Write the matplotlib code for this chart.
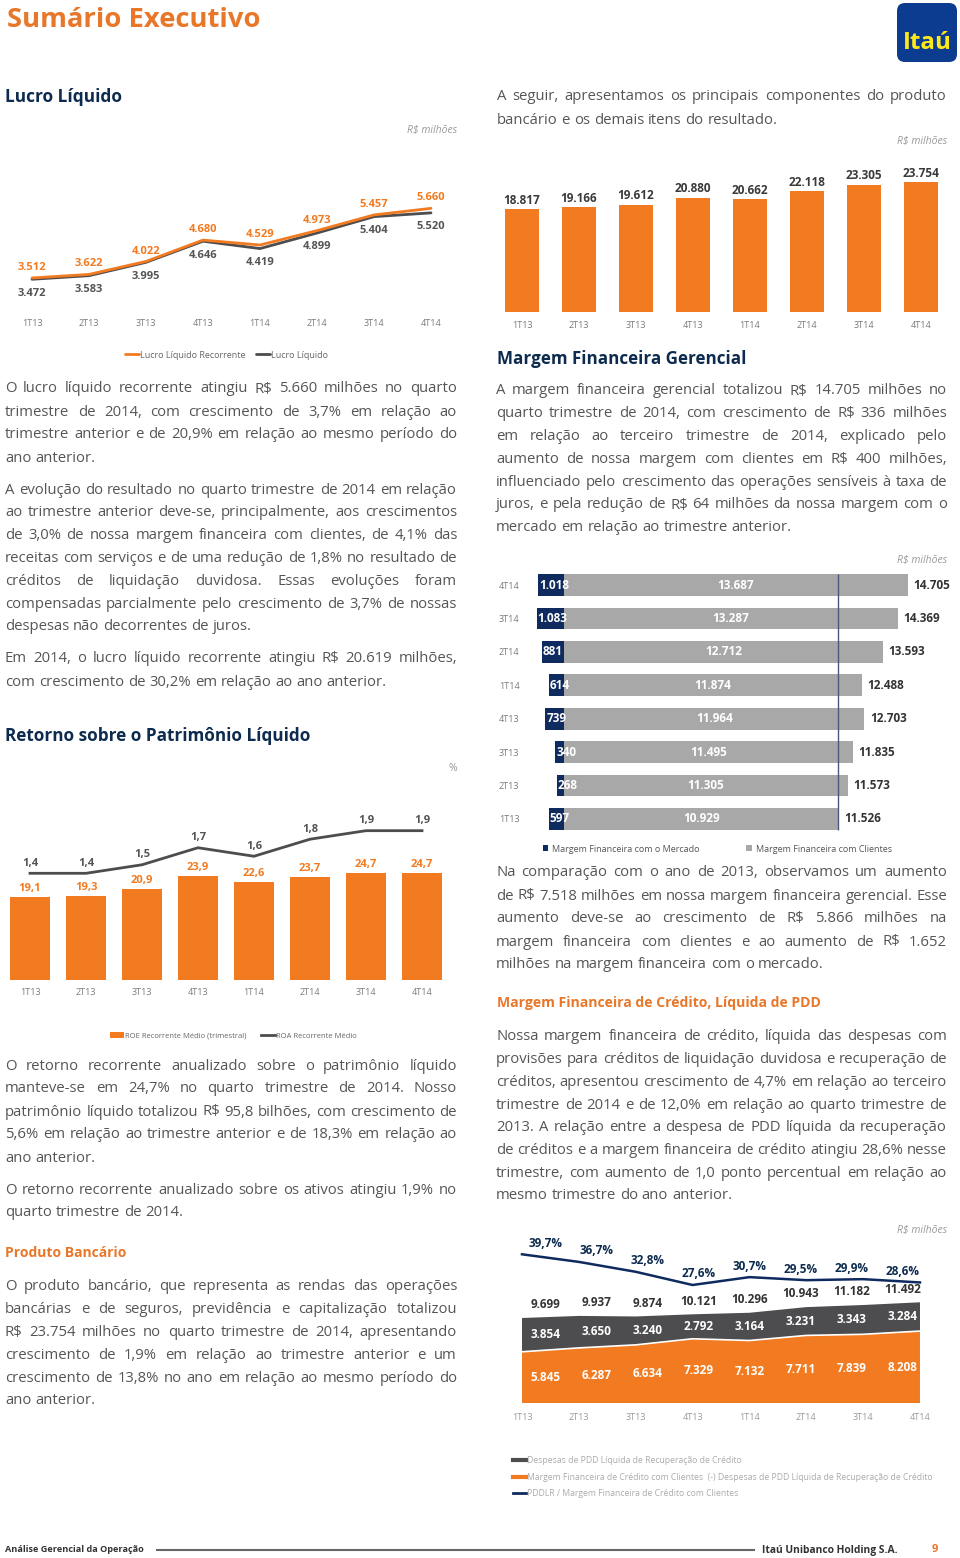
import matplotlib
matplotlib.use('Agg')
import matplotlib.pyplot as plt
from matplotlib.patches import FancyBboxPatch
from matplotlib.lines import Line2D
import numpy as np

plt.rcParams['font.family'] = ['Open Sans', 'DejaVu Sans']

W, H = 960, 1558

# ---------------- data ----------------
quarters = ['1T13', '2T13', '3T13', '4T13', '1T14', '2T14', '3T14', '4T14']
lucro_recorrente = [3512, 3622, 4022, 4680, 4529, 4973, 5457, 5660]
lucro_liquido = [3472, 3583, 3995, 4646, 4419, 4899, 5404, 5520]
produto_bancario = [18817, 19166, 19612, 20880, 20662, 22118, 23305, 23754]
mf_mercado = [597, 268, 340, 739, 614, 881, 1083, 1018]
mf_clientes = [10929, 11305, 11495, 11964, 11874, 12712, 13287, 13687]
mf_total = [11526, 11573, 11835, 12703, 12488, 13593, 14369, 14705]
roe = [19.1, 19.3, 20.9, 23.9, 22.6, 23.7, 24.7, 24.7]
roa = [1.4, 1.4, 1.5, 1.7, 1.6, 1.8, 1.9, 1.9]
pdd_despesas = [3854, 3650, 3240, 2792, 3164, 3231, 3343, 3284]
mf_credito_liq = [5845, 6287, 6634, 7329, 7132, 7711, 7839, 8208]
mf_credito_total = [9699, 9937, 9874, 10121, 10296, 10943, 11182, 11492]
pddlr_ratio = [39.7, 36.7, 32.8, 27.6, 30.7, 29.5, 29.9, 28.6]

# ---------------- style ----------------
ORANGE = '#F27B21'
TORANGE = '#E8772A'
DARK = '#4D4D4F'
NAVY = '#0F2A5E'
TNAVY = '#0D2B4E'
GRAYBAR = '#A8A8A8'
BODY = '#555555'
TICK = '#7A7A7A'


def fmt_int(v):
    return f"{v:,}".replace(',', '.')


def fmt_dec(v):
    return f"{v:.1f}".replace('.', ',')


fig = plt.figure(figsize=(W / 100, H / 100), dpi=100)
R = fig.canvas.get_renderer()


def add_ax(l, t, r, b):
    ax = fig.add_axes([l / W, 1 - b / H, (r - l) / W, (b - t) / H])
    return ax


def ptext(x, y, s, **kw):
    return fig.text(x / W, 1 - y / H, s, **kw)


def fit_text(x, y, s, width, **kw):
    t = ptext(x, y, s, fontsize=10, **kw)
    w = t.get_window_extent(R).width
    t.set_fontsize(10 * width / w)
    return t


def clean(ax):
    for sp in ax.spines.values():
        sp.set_visible(False)
    ax.set_yticks([])
    ax.patch.set_visible(False)


# ---------------- paragraphs ----------------
par_left1 = ["O lucro líquido recorrente atingiu R$ 5.660 milhões no quarto",
             "trimestre de 2014, com crescimento de 3,7% em relação ao",
             "trimestre anterior e de 20,9% em relação ao mesmo período do",
             "ano anterior."]
par_left2 = ["A evolução do resultado no quarto trimestre de 2014 em relação",
             "ao trimestre anterior deve-se, principalmente, aos crescimentos",
             "de 3,0% de nossa margem financeira com clientes, de 4,1% das",
             "receitas com serviços e de uma redução de 1,8% no resultado de",
             "créditos de liquidação duvidosa. Essas evoluções foram",
             "compensadas parcialmente pelo crescimento de 3,7% de nossas",
             "despesas não decorrentes de juros."]
par_left3 = ["Em 2014, o lucro líquido recorrente atingiu R$ 20.619 milhões,",
             "com crescimento de 30,2% em relação ao ano anterior."]
par_left4 = ["O retorno recorrente anualizado sobre o patrimônio líquido",
             "manteve-se em 24,7% no quarto trimestre de 2014. Nosso",
             "patrimônio líquido totalizou R$ 95,8 bilhões, com crescimento de",
             "5,6% em relação ao trimestre anterior e de 18,3% em relação ao",
             "ano anterior."]
par_left5 = ["O retorno recorrente anualizado sobre os ativos atingiu 1,9% no",
             "quarto trimestre de 2014."]
par_left6 = ["O produto bancário, que representa as rendas das operações",
             "bancárias e de seguros, previdência e capitalização totalizou",
             "R$ 23.754 milhões no quarto trimestre de 2014, apresentando",
             "crescimento de 1,9% em relação ao trimestre anterior e um",
             "crescimento de 13,8% no ano em relação ao mesmo período do",
             "ano anterior."]
par_right0 = ["A seguir, apresentamos os principais componentes do produto",
              "bancário e os demais itens do resultado."]
par_right1 = ["A margem financeira gerencial totalizou R$ 14.705 milhões no",
              "quarto trimestre de 2014, com crescimento de R$ 336 milhões",
              "em relação ao terceiro trimestre de 2014, explicado pelo",
              "aumento de nossa margem com clientes em R$ 400 milhões,",
              "influenciado pelo crescimento das operações sensíveis à taxa de",
              "juros, e pela redução de R$ 64 milhões da nossa margem com o",
              "mercado em relação ao trimestre anterior."]
par_right2 = ["Na comparação com o ano de 2013, observamos um aumento",
              "de R$ 7.518 milhões em nossa margem financeira gerencial. Esse",
              "aumento deve-se ao crescimento de R$ 5.866 milhões na",
              "margem financeira com clientes e ao aumento de R$ 1.652",
              "milhões na margem financeira com o mercado."]
par_right3 = ["Nossa margem financeira de crédito, líquida das despesas com",
              "provisões para créditos de liquidação duvidosa e recuperação de",
              "créditos, apresentou crescimento de 4,7% em relação ao terceiro",
              "trimestre de 2014 e de 12,0% em relação ao quarto trimestre de",
              "2013. A relação entre a despesa de PDD líquida da recuperação",
              "de créditos e a margem financeira de crédito atingiu 28,6% nesse",
              "trimestre, com aumento de 1,0 ponto percentual em relação ao",
              "mesmo trimestre do ano anterior."]

all_pars = [par_left1, par_left2, par_left3, par_left4, par_left5, par_left6,
            par_right0, par_right1, par_right2, par_right3]

# body size: the tightest justified line must fit 452 px
ratios = []
for p in all_pars:
    for line in p[:-1]:
        t = ptext(0, 0, line, fontsize=10)
        ratios.append(452 / t.get_window_extent(R).width)
        t.remove()
BODY_SIZE = 10 * min(ratios)

tA = ptext(0, 0, 'a a', fontsize=BODY_SIZE)
tB = ptext(0, 0, 'aa', fontsize=BODY_SIZE)
SPACE = tA.get_window_extent(R).width - tB.get_window_extent(R).width
tA.remove(); tB.remove()


def paragraph(lines, x0, x1, y0, dy):
    for k, line in enumerate(lines):
        yb = y0 + k * dy + 4.5
        words = line.split()
        ts = [ptext(x0, yb, w, fontsize=BODY_SIZE, color=BODY, va='baseline', ha='left')
              for w in words]
        ws = [t.get_window_extent(R).width for t in ts]
        if k == len(lines) - 1 or len(words) == 1:
            gap = SPACE
        else:
            gap = (x1 - x0 - sum(ws)) / (len(words) - 1)
        x = x0
        for t, w in zip(ts, ws):
            t.set_x(x / W)
            x += w + gap


paragraph(par_left1, 5, 457, 388, 23)
paragraph(par_left2, 5, 457, 489, 22.8)
paragraph(par_left3, 5, 457, 658, 23)
paragraph(par_left4, 5, 457, 1065, 23)
paragraph(par_left5, 5, 457, 1189, 23)
paragraph(par_left6, 5, 457, 1286, 22.8)
paragraph(par_right0, 497, 947, 96, 23)
paragraph(par_right1, 496, 947, 390, 22.8)
paragraph(par_right2, 496, 947, 872, 23)
paragraph(par_right3, 496, 947, 1036, 22.7)

# ---------------- titles ----------------
fit_text(7, 20, 'Sumário Executivo', 253, color=TORANGE, fontweight='bold', va='center')
fit_text(5, 97, 'Lucro Líquido', 117, color=TNAVY, fontweight='bold', va='center')
fit_text(497, 359, 'Margem Financeira Gerencial', 249, color=TNAVY, fontweight='bold', va='center')
fit_text(5, 736, 'Retorno sobre o Patrimônio Líquido', 305, color=TNAVY, fontweight='bold', va='center')
fit_text(497, 1003, 'Margem Financeira de Crédito, Líquida de PDD', 325, color=TORANGE,
         fontweight='bold', va='center')
fit_text(5, 1253, 'Produto Bancário', 121, color=TORANGE, fontweight='bold', va='center')

for (xr, yr) in [(457, 130), (947, 141), (947, 560), (947, 1230)]:
    ptext(xr, yr, 'R$ milhões', fontsize=7.5, color='#9A9A9A', style='italic', ha='right', va='center')
ptext(453, 768, '%', fontsize=7.5, color='#9A9A9A', ha='center', va='center')

# ---------------- logo ----------------
axl = add_ax(897, 3, 957, 62)
axl.set_xlim(0, 60); axl.set_ylim(0, 59); axl.axis('off')
axl.add_patch(FancyBboxPatch((0, 0), 60, 59, boxstyle='round,pad=0,rounding_size=8',
                             facecolor='#0B3C8F', edgecolor='none'))
fit_text(927, 43, 'Itaú', 49, color='#FFE81A', fontweight='bold', ha='center', va='center')

x = np.arange(len(quarters))

# ---------------- chart 1: lucro líquido ----------------
ax1 = add_ax(3.5, 160, 459.5, 310)
l_liq, = ax1.plot(x, lucro_liquido, color=DARK, lw=2, solid_capstyle='round')
l_rec, = ax1.plot(x, lucro_recorrente, color=ORANGE, lw=2, solid_capstyle='round')
ax1.set_xlim(-0.5, 7.5)
ax1.set_ylim(2524, 7151)
clean(ax1)
ax1.set_xticks(x, quarters)
ax1.tick_params(axis='x', length=0, pad=6.5, labelsize=6.5, labelcolor=TICK)
for i, (a, b) in enumerate(zip(lucro_recorrente, lucro_liquido)):
    ax1.annotate(fmt_int(a), (i, a), xytext=(0, 7.5), textcoords='offset points',
                 ha='center', va='center', color=ORANGE, fontweight='bold', fontsize=8)
    ax1.annotate(fmt_int(b), (i, b), xytext=(0, -10), textcoords='offset points',
                 ha='center', va='center', color='#555555', fontweight='bold', fontsize=8)
fig.legend([l_rec, l_liq], ['Lucro Líquido Recorrente', 'Lucro Líquido'],
           loc='center left', bbox_to_anchor=(125 / W, 1 - 355 / H), ncol=2, frameon=False,
           fontsize=6.5, labelcolor='#666666', handlelength=1.5, handletextpad=0.15,
           columnspacing=1.2, borderpad=0, borderaxespad=0)

# ---------------- chart 2: produto bancário ----------------
ax2 = add_ax(493.5, 160, 949.5, 312)
ax2.bar(x, produto_bancario, width=0.58, color=ORANGE)
ax2.set_xlim(-0.5, 7.5)
ax2.set_ylim(0, 27830)
clean(ax2)
ax2.set_xticks(x, quarters)
ax2.tick_params(axis='x', length=0, pad=6.5, labelsize=6.5, labelcolor=TICK)
for i, v in enumerate(produto_bancario):
    ax2.annotate(fmt_int(v), (i, v), xytext=(0, 6.5), textcoords='offset points',
                 ha='center', va='center', color='#3A3A3A', fontweight='bold', fontsize=8.5)

# ---------------- chart 3: margem financeira gerencial ----------------
ax3 = add_ax(525, 568.3, 955, 835.7)
b_m = ax3.barh(x, [-m for m in mf_mercado], height=0.65, color=NAVY)
b_c = ax3.barh(x, mf_clientes, height=0.65, color=GRAYBAR)
ax3.vlines(mf_clientes[0], -0.33, 7.33, color='#46597F', lw=1)
ax3.set_xlim(-1553, 15574)
ax3.set_ylim(-0.5, 7.5)
clean(ax3)
ax3.set_xticks([])
ax3.set_yticks(x, quarters)
ax3.tick_params(axis='y', length=0, pad=4, labelsize=6.5, labelcolor=TICK)
for i, (m, c, t) in enumerate(zip(mf_mercado, mf_clientes, mf_total)):
    ax3.annotate(fmt_int(m), (-m, i), xytext=(0.5, 0), textcoords='offset points',
                 ha='left', va='center', color='white', fontweight='bold', fontsize=8.5)
    ax3.text(c / 2, i, fmt_int(c), ha='center', va='center', color='white',
             fontweight='bold', fontsize=8.5)
    ax3.annotate(fmt_int(t), (c, i), xytext=(4, 0), textcoords='offset points',
                 ha='left', va='center', color='#333333', fontweight='bold', fontsize=8.5)
fig.legend([b_m, b_c], ['Margem Financeira com o Mercado', 'Margem Financeira com Clientes'],
           loc='center left', bbox_to_anchor=(543 / W, 1 - 849 / H), ncol=2, frameon=False,
           fontsize=6.5, labelcolor='#555555', handlelength=0.6, handleheight=0.6,
           handletextpad=0.4, columnspacing=5.2, borderpad=0, borderaxespad=0)

# ---------------- chart 4: ROE / ROA ----------------
ax4 = add_ax(2, 800, 450, 980)
b_roe = ax4.bar(x, roe, width=0.7, color=ORANGE)
ax4.set_xlim(-0.5, 7.5)
ax4.set_ylim(0, 41.4)
clean(ax4)
ax4.set_xticks(x, quarters)
ax4.tick_params(axis='x', length=0, pad=6, labelsize=6.5, labelcolor=TICK)
ax4b = ax4.twinx()
l_roa, = ax4b.plot(x, roa, color=DARK, lw=2)
ax4b.set_ylim(0.148, 2.26)
clean(ax4b)
for i, (e, a) in enumerate(zip(roe, roa)):
    ax4.annotate(fmt_dec(e), (i, e), xytext=(0, 6), textcoords='offset points',
                 ha='center', va='center', color=ORANGE, fontweight='bold', fontsize=8)
    ax4b.annotate(fmt_dec(a), (i, a), xytext=(0, 7.2), textcoords='offset points',
                  ha='center', va='center', color='#555555', fontweight='bold', fontsize=8)
fig.legend([b_roe, l_roa], ['ROE Recorrente Médio (trimestral)', 'ROA Recorrente Médio'],
           loc='center left', bbox_to_anchor=(110 / W, 1 - 1036 / H), ncol=2, frameon=False,
           fontsize=5.5, labelcolor='#666666', handlelength=1.8, handleheight=0.7,
           handletextpad=0.1, columnspacing=2.0, borderpad=0, borderaxespad=0)

# ---------------- chart 5: margem financeira de crédito ----------------
ax5 = add_ax(500, 1235, 945, 1403)
polys = ax5.stackplot(x, mf_credito_liq, pdd_despesas, colors=[ORANGE, DARK], lw=0)
ax5.plot(x, mf_credito_liq, color='white', lw=1.2)
ax5.set_xlim(-0.387, 7.44)
ax5.set_ylim(0, 19170)
clean(ax5)
ax5.set_xticks(x, quarters)
ax5.tick_params(axis='x', length=0, pad=7, labelsize=6.5, labelcolor='#9A9A9A')
ax5b = ax5.twinx()
l_r, = ax5b.plot(x, pddlr_ratio, color=NAVY, lw=1.8)
ax5b.set_ylim(-18.9, 47.3)
clean(ax5b)
for i in range(len(quarters)):
    lx = 0.42 + i * 0.897
    liq, pdd, tot, r = mf_credito_liq[i], pdd_despesas[i], mf_credito_total[i], pddlr_ratio[i]
    ax5.text(lx, liq / 2, fmt_int(liq), ha='center', va='center', color='white',
             fontweight='bold', fontsize=8.5)
    ax5.text(lx, liq + pdd / 2, fmt_int(pdd), ha='center', va='center', color='white',
             fontweight='bold', fontsize=8.5)
    ax5.annotate(fmt_int(tot), (lx, tot), xytext=(0, 9.5), textcoords='offset points',
                 ha='center', va='center', color='#333333', fontweight='bold', fontsize=8.5)
    ax5b.annotate(fmt_dec(r) + '%', (lx, r), xytext=(0, 8), textcoords='offset points',
                  ha='center', va='center', color=TNAVY, fontweight='bold', fontsize=8.5)
fig.legend([Line2D([], [], color=DARK, lw=3), Line2D([], [], color=ORANGE, lw=3),
            Line2D([], [], color=NAVY, lw=2)],
           ['Despesas de PDD Líquida de Recuperação de Crédito',
            'Margem Financeira de Crédito com Clientes  (-) Despesas de PDD Líquida de Recuperação de Crédito',
            'PDDLR / Margem Financeira de Crédito com Clientes'],
           loc='upper left', bbox_to_anchor=(513 / W, 1 - 1456 / H), ncol=1, frameon=False,
           fontsize=6.2, labelcolor='#ABABAB', handlelength=1.5, handletextpad=0.15,
           labelspacing=0.9, borderpad=0, borderaxespad=0)

# ---------------- footer ----------------
fit_text(5, 1550, 'Análise Gerencial da Operação', 140, color='#333333', fontweight='bold', va='center')
fig.add_artist(Line2D([157 / W, 754 / W], [1 - 1550 / H, 1 - 1550 / H], color='#666666', lw=1.5))
fit_text(762, 1550, 'Itaú Unibanco Holding S.A.', 136, color='#333333', fontweight='bold', va='center')
ptext(935, 1550, '9', fontsize=8, color=TORANGE, fontweight='bold', ha='center', va='center')

fig.savefig('out.png', dpi=100)
